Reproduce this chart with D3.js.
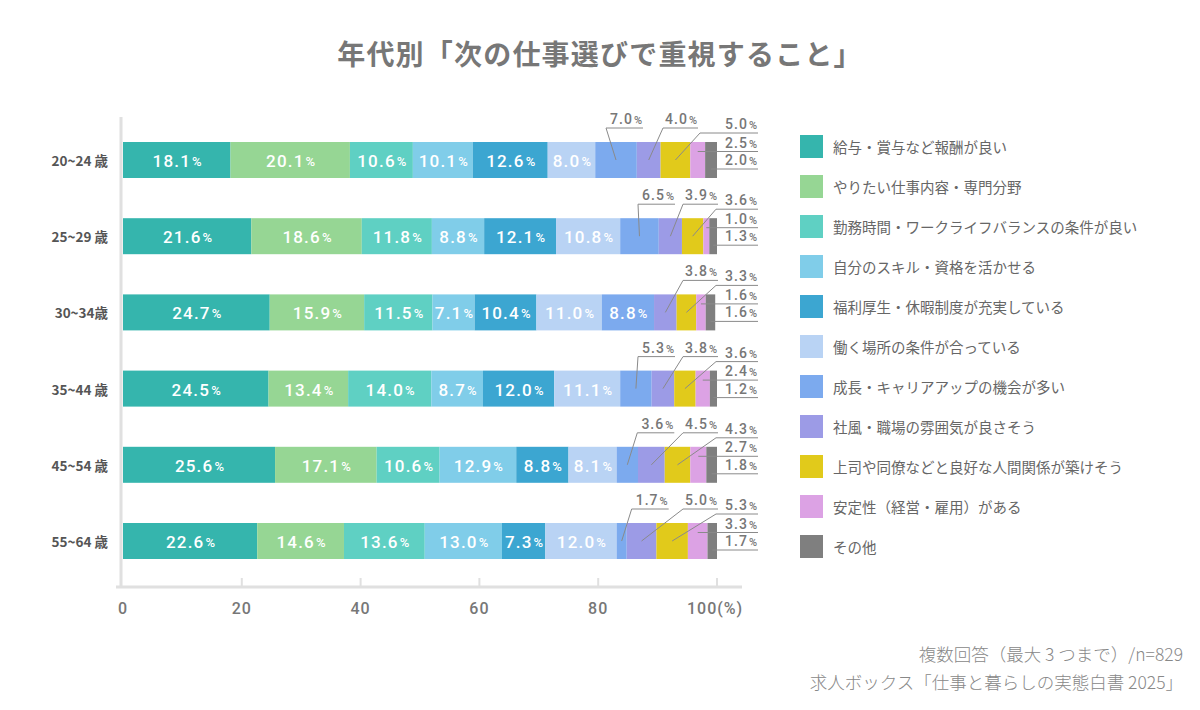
<!DOCTYPE html>
<html>
<head>
<meta charset="utf-8">
<script src="https://cdn.jsdelivr.net/npm/d3@7"></script>
<style>
  html, body { margin: 0; padding: 0; background: #fff; }
  svg { display: block; }
  .jp { font-family: "Noto Sans CJK JP", "Noto Sans", sans-serif; }
  .num { font-family: Roboto, "DejaVu Sans Condensed", sans-serif; }
</style>
</head>
<body>
<div id="chart"></div>
<script>
// Data
const groups = ['20~24 歳', '25~29 歳', '30~34歳', '35~44 歳', '45~54 歳', '55~64 歳'];

const categories = [
  '給与・賞与など報酬が良い',
  'やりたい仕事内容・専門分野',
  '勤務時間・ワークライフバランスの条件が良い',
  '自分のスキル・資格を活かせる',
  '福利厚生・休暇制度が充実している',
  '働く場所の条件が合っている',
  '成長・キャリアアップの機会が多い',
  '社風・職場の雰囲気が良さそう',
  '上司や同僚などと良好な人間関係が築けそう',
  '安定性（経営・雇用）がある',
  'その他'
];

const colors = ['#35b5ad', '#96d694', '#5fd0c3', '#80cde9', '#3ca6d1', '#b9d3f4',
                '#7caaee', '#9c9be6', '#e1ca1b', '#dca2e4', '#7f7f7f'];

const values = [
  [18.1, 20.1, 10.6, 10.1, 12.6, 8.0, 7.0, 4.0, 5.0, 2.5, 2.0],
  [21.6, 18.6, 11.8, 8.8, 12.1, 10.8, 6.5, 3.9, 3.6, 1.0, 1.3],
  [24.7, 15.9, 11.5, 7.1, 10.4, 11.0, 8.8, 3.8, 3.3, 1.6, 1.6],
  [24.5, 13.4, 14.0, 8.7, 12.0, 11.1, 5.3, 3.8, 3.6, 2.4, 1.2],
  [25.6, 17.1, 10.6, 12.9, 8.8, 8.1, 3.6, 4.5, 4.3, 2.7, 1.8],
  [22.6, 14.6, 13.6, 13.0, 7.3, 12.0, 1.7, 5.0, 5.3, 3.3, 1.7]
];

const xTicks = [0, 20, 40, 60, 80, 100];

const W = 1200, H = 710;
const svg = d3.select('#chart').append('svg').attr('width', W).attr('height', H);

const x = d3.scaleLinear().domain([0, 100]).range([123, 717]);
const y = d3.scalePoint().domain(groups).range([160, 541]);
const barH = 36;
const axisY = 587;

// Title
svg.append('text').attr('class', 'jp')
  .attr('x', 600).attr('y', 53).attr('dominant-baseline', 'central')
  .attr('text-anchor', 'middle').attr('font-size', 28).attr('font-weight', 700)
  .attr('letter-spacing', 1.2)
  .attr('fill', '#777').text('年代別「次の仕事選びで重視すること」');

// Axes
svg.append('line').attr('x1', 121).attr('x2', 121).attr('y1', 117).attr('y2', axisY + 1)
  .attr('stroke', '#e0e0e0').attr('stroke-width', 3);
svg.append('line').attr('x1', 116).attr('x2', 742).attr('y1', axisY).attr('y2', axisY)
  .attr('stroke', '#e0e0e0').attr('stroke-width', 3);
svg.append('g').selectAll('line').data(xTicks.slice(1)).join('line')
  .attr('x1', d => x(d)).attr('x2', d => x(d))
  .attr('y1', axisY - 9).attr('y2', axisY)
  .attr('stroke', '#e0e0e0').attr('stroke-width', 2);

svg.append('g').selectAll('text').data(xTicks).join('text')
  .attr('class', 'num')
  .attr('x', d => d === 100 ? x(d) - 30 : x(d))
  .attr('y', 608).attr('dominant-baseline', 'central')
  .attr('text-anchor', d => d === 100 ? 'start' : 'middle')
  .attr('font-size', 16).attr('font-weight', 500).attr('fill', '#777')
  .attr('letter-spacing', 1)
  .text(d => d === 100 ? '100(%)' : d);

// Group labels
svg.append('g').selectAll('text').data(groups).join('text')
  .attr('class', 'jp')
  .attr('x', 108).attr('y', d => y(d)).attr('dominant-baseline', 'central')
  .attr('text-anchor', 'end').attr('font-size', 13.5).attr('font-weight', 700)
  .attr('fill', '#555').text(d => d);

function pctText(sel, v, numSize, pctSize) {
  sel.append('tspan').attr('font-size', numSize).text(v.toFixed(1));
  sel.append('tspan').attr('font-size', pctSize).attr('dx', 1).text('%');
}

// Bars
values.forEach((row, gi) => {
  const c = y(groups[gi]);
  const top = c - barH / 2;
  let acc = 0;
  const segs = row.map((v, i) => {
    const s = { v, i, x0: acc, x1: acc + v };
    acc += v;
    return s;
  });
  const g = svg.append('g');
  g.selectAll('rect').data(segs).join('rect')
    .attr('x', d => x(d.x0)).attr('y', top)
    .attr('width', d => Math.max(0, x(Math.min(d.x1, 100)) - x(d.x0)))
    .attr('height', barH)
    .attr('fill', d => colors[d.i]);

  // inside labels
  segs.filter(d => d.v >= 7.05).forEach(d => {
    const t = g.append('text').attr('class', 'num')
      .attr('x', (x(d.x0) + x(d.x1)) / 2 + 1).attr('y', c + 1)
      .attr('dominant-baseline', 'central').attr('text-anchor', 'middle')
      .attr('fill', '#fff').attr('font-weight', 500).attr('letter-spacing', 1.2);
    pctText(t, d.v, 17, 13);
  });

  // callouts
  const shift = gi === 0 ? -20 : 0;   // first row labels sit further left
  const lineCol = '#8a8a8a', txtCol = '#777';
  const cx = d => (x(d.x0) + x(Math.min(d.x1, 100))) / 2;

  function aboveLabel(d, startX, len, ulY) {
    g.append('line').attr('x1', startX).attr('x2', startX + len).attr('y1', ulY).attr('y2', ulY)
      .attr('stroke', lineCol).attr('stroke-width', 1);
    g.append('line').attr('x1', startX).attr('y1', ulY).attr('x2', cx(d)).attr('y2', c)
      .attr('stroke', lineCol).attr('stroke-width', 1);
    const t = g.append('text').attr('class', 'num')
      .attr('x', startX + len).attr('y', ulY - 4).attr('text-anchor', 'end')
      .attr('fill', txtCol).attr('font-weight', 500).attr('letter-spacing', 1);
    pctText(t, d.v, 14, 11);
  }

  const s6 = segs[6], s7 = segs[7], s8 = segs[8], s9 = segs[9], s10 = segs[10];
  if (s6.v < 7.05) aboveLabel(s6, Math.min(cx(s6) + 10, 638) + shift, 37, top - 14);
  aboveLabel(s7, 683 + shift, 35, top - 14);
  aboveLabel(s8, 716 + shift * 0.8, 758 - 716 - shift * 0.8, top - 9);

  [[s9, c - 8.5], [s10, c + 9]].forEach(([d, ly]) => {
    g.append('line').attr('x1', cx(d)).attr('x2', 758).attr('y1', ly).attr('y2', ly)
      .attr('stroke', lineCol).attr('stroke-width', 1);
    const t = g.append('text').attr('class', 'num')
      .attr('x', 758).attr('y', ly - 4).attr('text-anchor', 'end')
      .attr('fill', txtCol).attr('font-weight', 500).attr('letter-spacing', 1);
    pctText(t, d.v, 14, 11);
  });
});

// Legend
const leg = svg.append('g').selectAll('g').data(categories).join('g')
  .attr('transform', (d, i) => `translate(800, ${146 + i * 40})`);
leg.append('rect').attr('x', 0).attr('y', -11).attr('width', 23).attr('height', 23)
  .attr('fill', (d, i) => colors[i]);
leg.append('text').attr('class', 'jp')
  .attr('x', 33).attr('y', 0).attr('dominant-baseline', 'central')
  .attr('font-size', 14.5).attr('fill', '#666').text(d => d);

// Footer
const foot = ['複数回答（最大 3 つまで）/n=829', '求人ボックス「仕事と暮らしの実態白書 2025」'];
svg.append('g').selectAll('text').data(foot).join('text')
  .attr('class', 'jp')
  .attr('x', 1183).attr('y', (d, i) => 653 + i * 28).attr('dominant-baseline', 'central')
  .attr('text-anchor', 'end').attr('font-size', 17.5).attr('font-weight', 300)
  .attr('fill', '#888').text(d => d);
</script>
</body>
</html>
